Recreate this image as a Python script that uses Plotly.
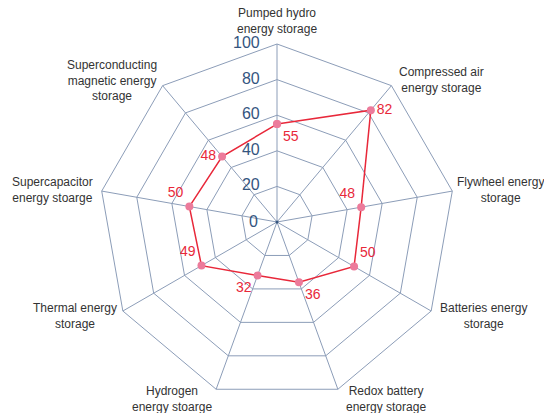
import plotly.graph_objects as go

categories = [
    "Pumped hydro energy storage",
    "Compressed air energy storage",
    "Flywheel energy storage",
    "Batteries energy storage",
    "Redox battery energy storage",
    "Hydrogen energy stoarge",
    "Thermal energy storage",
    "Supercapacitor energy stoarge",
    "Superconducting magnetic energy storage",
]
# wrapped label text as it appears round the chart
category_labels = [
    "Pumped hydro<br>energy storage",
    "Compressed air<br>energy storage",
    "Flywheel energy<br>storage",
    "Batteries energy<br>storage",
    "Redox battery<br>energy storage",
    "Hydrogen<br>energy stoarge",
    "Thermal energy<br>storage",
    "Supercapacitor<br>energy stoarge",
    "Superconducting<br>magnetic energy<br>storage",
]
values = [55, 82, 48, 50, 36, 32, 49, 50, 48]
label_positions = [
    "bottom right", "middle right", "top left", "top right", "bottom right",
    "bottom left", "top left", "top left", "middle left",
]
radial_ticks = [0, 20, 40, 60, 80, 100]

LINE_RED = "#E8283A"
MARKER_PINK = "#EC7B9B"
GRID = "#8C9DB8"
TICK_BLUE = "#34557F"

# page body has an 8px margin, so the figure is 8px smaller than the window
W, H = 544, 405
OFF = 8
DOM_X = [0.1673, 0.8217]
DOM_Y = [0.0321, 0.9111]

fig = go.Figure()

fig.add_trace(go.Scatterpolar(
    r=values + values[:1],
    theta=categories + categories[:1],
    mode="lines+markers+text",
    line=dict(color=LINE_RED, width=1.5),
    marker=dict(size=8, color=MARKER_PINK, line=dict(width=0)),
    text=[str(v) for v in values] + [""],
    textposition=label_positions + ["top center"],
    textfont=dict(size=14, color=LINE_RED, family="Liberation Sans, Arial"),
    showlegend=False,
    hoverinfo="skip",
    cliponaxis=False,
))

# radial tick labels, set to the left of the vertical spoke
fig.add_trace(go.Scatterpolar(
    r=radial_ticks[1:],
    theta=[categories[0]] * (len(radial_ticks) - 1),
    mode="markers+text",
    marker=dict(size=26, color="rgba(0,0,0,0)"),
    text=[str(t) for t in radial_ticks[1:]],
    textposition="middle left",
    textfont=dict(size=16, color=TICK_BLUE, family="Liberation Sans, Arial"),
    showlegend=False,
    hoverinfo="skip",
    cliponaxis=False,
))

# plotly drops the r=0 text point, so the centre label is an annotation
cx = sum(DOM_X) / 2
cy = sum(DOM_Y) / 2
fig.add_annotation(
    x=cx, y=cy, xref="paper", yref="paper", text=str(radial_ticks[0]),
    showarrow=False, xanchor="right", yanchor="middle", xshift=-17, yshift=1,
    font=dict(size=16, color=TICK_BLUE, family="Liberation Sans, Arial"),
)
# small dark dot at the centre of the web
fig.add_shape(
    type="circle", xref="paper", yref="paper",
    x0=cx, y0=cy, x1=cx, y1=cy, xsizemode="pixel", ysizemode="pixel",
    xanchor=cx, yanchor=cy,
    line=dict(width=0), fillcolor=TICK_BLUE,
)
fig.layout.shapes[-1].update(x0=-1.5, x1=1.5, y0=-1.5, y1=1.5)

# category labels placed round the polygon (reference pixel positions)
label_xy = [
    (277, 21), (441, 80), (500, 190), (483, 316), (386, 399),
    (172, 399), (75, 316), (52, 190), (112, 80),
]
for text, (px, py) in zip(category_labels, label_xy):
    fig.add_annotation(
        x=(px - OFF) / W, y=1 - (py - OFF) / H, xref="paper", yref="paper",
        text=text, showarrow=False, xanchor="center", yanchor="middle",
        font=dict(size=12, color="#333333"),
    )

fig.update_layout(
    width=W,
    height=H,
    margin=dict(l=0, r=0, t=0, b=0),
    paper_bgcolor="white",
    font=dict(family="Liberation Sans, Arial", color="#333333"),
    polar=dict(
        domain=dict(x=DOM_X, y=DOM_Y),
        gridshape="linear",
        bgcolor="white",
        angularaxis=dict(
            direction="clockwise",
            rotation=90,
            showline=True,
            linecolor=GRID,
            linewidth=1,
            gridcolor=GRID,
            gridwidth=1,
            ticks="",
            showticklabels=False,
        ),
        radialaxis=dict(
            range=[0, 100],
            tickvals=radial_ticks,
            angle=90,
            showline=False,
            gridcolor=GRID,
            gridwidth=1,
            ticks="",
            showticklabels=False,
        ),
    ),
)

fig.write_html("out.html")
